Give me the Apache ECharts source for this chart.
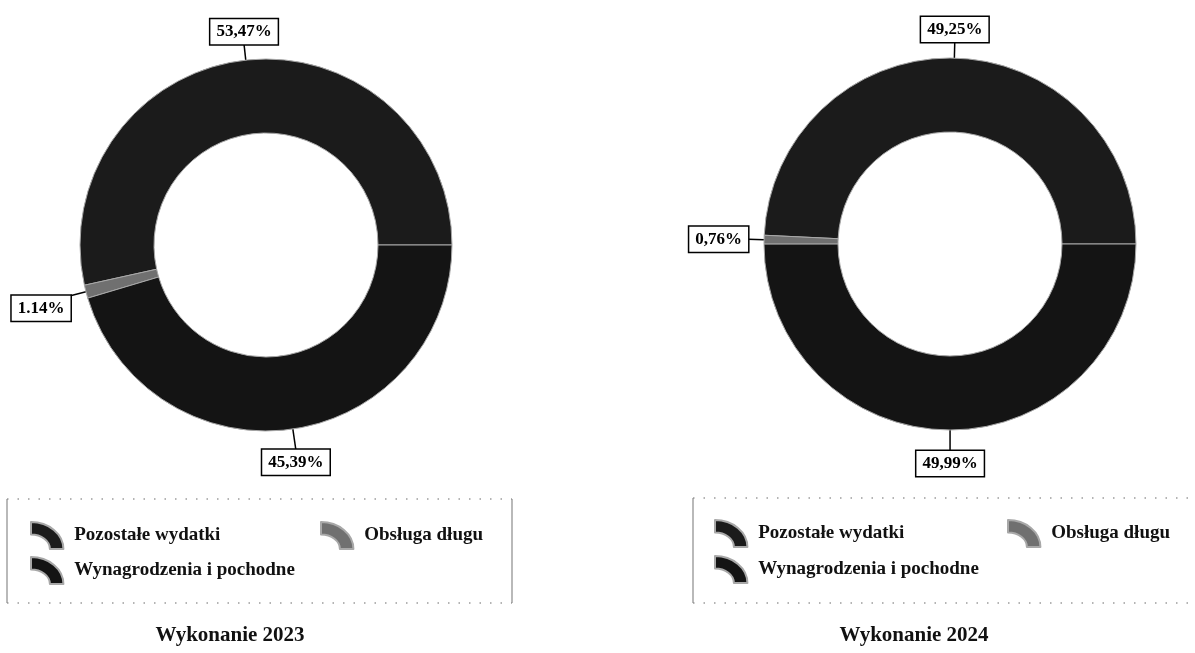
<!DOCTYPE html>
<html><head><meta charset="utf-8">
<script src="https://cdn.jsdelivr.net/npm/echarts@6/dist/echarts.min.js"></script>
<style>html,body{margin:0;padding:0;background:#fff}#c{width:1195px;height:653px}</style>
</head><body><div id="c"></div>
<script>
const categories = ['Pozostałe wydatki', 'Obsługa długu', 'Wynagrodzenia i pochodne'];
const values2023 = [53.47, 1.14, 45.39];
const values2024 = [49.25, 0.76, 49.99];
const labels2023 = ['53,47%', '1.14%', '45,39%'];
const labels2024 = ['49,25%', '0,76%', '49,99%'];
const titles = ['Wykonanie 2023', 'Wykonanie 2024'];

const colors = ['#1b1b1b', '#707070', '#141414'];
const FONT = '"Liberation Serif", "Times New Roman", serif';
const ICON = 'path://M0,0 A36,30 0 0 1 36,30 L21,30 A21,16 0 0 0 0,14 Z';

const chart = echarts.init(document.getElementById('c'), null, {renderer: 'canvas'});

function makeLayout(values, center, r) {
  const total = values.reduce((a, b) => a + b, 0);
  return function (params) {
    const i = params.dataIndex;
    let cum = 0;
    for (let k = 0; k < i; k++) cum += values[k];
    const mid = (cum + values[i] / 2) / total * 2 * Math.PI;
    const dx = Math.cos(mid), dy = -Math.sin(mid);
    const len = dy > 0.5 ? 21 : 16;
    const p0 = [center[0] + r * dx, center[1] + r * dy];
    const p1 = [p0[0] + len * dx, p0[1] + len * dy];
    const align = dx < -0.5 ? 'right' : (dx > 0.5 ? 'left' : 'center');
    const va = dy < -0.5 ? 'bottom' : (dy > 0.2 ? 'top' : 'middle');
    return {x: p1[0], y: p1[1], align: align, verticalAlign: va, labelLinePoints: [p0, p1, p1]};
  };
}

function pieSeries(values, labels, center) {
  const R = [112, 186];
  return {
    type: 'pie',
    center: center,
    radius: R,
    startAngle: 0,
    clockwise: false,
    avoidLabelOverlap: false,
    silent: true,
    animation: false,
    data: categories.map((n, i) => ({name: n, value: values[i], itemStyle: {color: colors[i]}})),
    itemStyle: {borderColor: '#a8a8a8', borderWidth: 1},
    label: {
      show: true, position: 'outside',
      formatter: p => labels[p.dataIndex],
      fontFamily: FONT, fontWeight: 'bold', fontSize: 17, color: '#000',
      backgroundColor: '#fff', borderColor: '#000', borderWidth: 1.5,
      padding: [4, 6, 4, 6]
    },
    labelLine: {show: true, length: 17, length2: 0, lineStyle: {color: '#000', width: 1.5}},
    labelLayout: makeLayout(values, center, R[1]),
    emphasis: {disabled: true}
  };
}

function legend(name, left, top) {
  return {
    data: [{name: name, icon: ICON}],
    left: left, top: top, padding: 0,
    itemWidth: 36, itemHeight: 27, itemGap: 0,
    selectedMode: false,
    textStyle: {fontFamily: FONT, fontWeight: 'bold', fontSize: 19, color: '#111', padding: [0, 0, 0, 4]}
  };
}

const dotted = {stroke: '#6a6a6a', lineWidth: 1.2, lineDash: [1.5, 9]};
const solid = {stroke: '#8a8a8a', lineWidth: 1.2};

const option = {
  backgroundColor: '#fff',
  animation: false,
  series: [
    pieSeries(values2023, labels2023, [266, 245]),
    pieSeries(values2024, labels2024, [950, 244])
  ],
  legend: [
    legend(categories[0], 30, 521),
    legend(categories[1], 320, 521),
    legend(categories[2], 30, 556),
    legend(categories[0], 714, 519),
    legend(categories[1], 1007, 519),
    legend(categories[2], 714, 555)
  ],
  graphic: [
    {type: 'line', shape: {x1: 7, y1: 499, x2: 512, y2: 499}, style: dotted, silent: true},
    {type: 'line', shape: {x1: 7, y1: 603, x2: 512, y2: 603}, style: dotted, silent: true},
    {type: 'line', shape: {x1: 7, y1: 499, x2: 7, y2: 603}, style: solid, silent: true},
    {type: 'line', shape: {x1: 512, y1: 499, x2: 512, y2: 603}, style: solid, silent: true},
    {type: 'line', shape: {x1: 693, y1: 498, x2: 1190, y2: 498}, style: dotted, silent: true},
    {type: 'line', shape: {x1: 693, y1: 603, x2: 1190, y2: 603}, style: dotted, silent: true},
    {type: 'line', shape: {x1: 693, y1: 498, x2: 693, y2: 603}, style: solid, silent: true},
    {type: 'text', x: 230, y: 636, style: {text: titles[0], align: 'center', verticalAlign: 'middle',
      font: 'bold 21px ' + FONT, fill: '#111'}},
    {type: 'text', x: 914, y: 636, style: {text: titles[1], align: 'center', verticalAlign: 'middle',
      font: 'bold 21px ' + FONT, fill: '#111'}}
  ]
};
chart.setOption(option);
</script>
</body></html>
